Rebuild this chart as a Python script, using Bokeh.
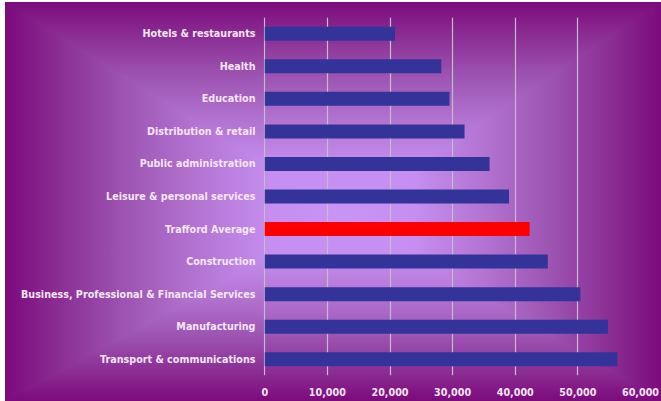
from bokeh.plotting import figure
from bokeh.models import ColumnDataSource, FactorRange, Range1d, NumeralTickFormatter, SingleIntervalTicker
from bokeh.embed import file_html
from bokeh.resources import INLINE
from urllib.parse import quote

# ---- data (top to bottom as shown) ----
categories = [
    "Hotels & restaurants",
    "Health",
    "Education",
    "Distribution & retail",
    "Public administration",
    "Leisure & personal services",
    "Trafford Average",
    "Construction",
    "Business, Professional & Financial Services",
    "Manufacturing",
    "Transport & communications",
]
salaries = [20800, 28200, 29500, 31900, 35900, 39000, 42300, 45200, 50400, 54800, 56300]
highlight = "Trafford Average"
x_ticks_interval = 10000
x_max = 60000

W, H = 656, 399

# ---- rectangular ("from centre") purple gradient background as SVG ----
cx, cy = 340, 213
stops = [(0.0, "#c894f6"), (0.22, "#c58ef0"), (0.45, "#b272d0"), (0.65, "#9d54b2"),
         (0.85, "#8a2c92"), (1.0, "#7c0a7c")]

def grad(gid, x1, y1, x2, y2):
    s = "".join(f'<stop offset="{o}" stop-color="{c}"/>' for o, c in stops)
    return (f'<linearGradient id="{gid}" gradientUnits="userSpaceOnUse" '
            f'x1="{x1}" y1="{y1}" x2="{x2}" y2="{y2}">{s}</linearGradient>')

defs = (grad("gt", 0, cy, 0, 0) + grad("gb", 0, cy, 0, H) +
        grad("gl", cx, 0, 0, 0) + grad("gr", cx, 0, W, 0))
polys = (
    f'<rect x="0" y="0" width="{W}" height="{cy + 1}" fill="url(#gt)"/>'
    f'<rect x="0" y="{cy}" width="{W}" height="{H - cy}" fill="url(#gb)"/>'
    f'<polygon points="0,0 0,{H} {cx},{cy}" fill="url(#gl)"/>'
    f'<polygon points="{W},0 {W},{H} {cx},{cy}" fill="url(#gr)"/>'
)
svg = (f'<svg xmlns="http://www.w3.org/2000/svg" width="{W}" height="{H}" '
       f'viewBox="0 0 {W} {H}" preserveAspectRatio="none"><defs>{defs}</defs>{polys}</svg>')
bg_url = "url(\"data:image/svg+xml;charset=utf-8," + quote(svg) + "\")"

# ---- figure ----
factors = list(reversed(categories))
p = figure(
    width=W, height=H,
    y_range=FactorRange(factors=factors, range_padding=0),
    x_range=Range1d(-200, x_max),
    output_backend="svg", toolbar_location=None,
    min_border_left=258, min_border_right=21, min_border_top=15, min_border_bottom=26,
)
p.styles = {"background-image": bg_url, "background-size": "100% 100%",
            "margin-left": "5px", "margin-top": "2px"}
p.background_fill_color = None
p.border_fill_color = None
p.outline_line_color = None

colors = ["#ff0000" if c == highlight else "#333399" for c in categories]
src = ColumnDataSource(dict(cat=categories, val=salaries, color=colors))
p.hbar(y="cat", left=0, right="val", height=0.43, color="color", source=src, line_color=None)

# axes
p.xaxis.ticker = SingleIntervalTicker(interval=x_ticks_interval)
p.xaxis.formatter = NumeralTickFormatter(format="0,0")
for ax in (p.xaxis[0], p.yaxis[0]):
    ax.axis_line_color = None
    ax.major_tick_line_color = None
    ax.minor_tick_line_color = None
    ax.major_tick_out = 0
    ax.major_tick_in = 0
    ax.minor_tick_out = 0
    ax.minor_tick_in = 0
    ax.major_label_text_font = "DejaVu Sans"
    ax.major_label_text_font_style = "bold"
    ax.major_label_text_font_size = "9.6px"
    ax.major_label_text_color = "#f4e6f4"
p.xaxis.major_label_standoff = 12
p.yaxis.major_label_standoff = 8

p.xgrid.grid_line_color = "#c4bccb"
p.xgrid.grid_line_width = 1.2
p.ygrid.grid_line_color = None

open("out.html", "w").write(file_html(p, INLINE))
